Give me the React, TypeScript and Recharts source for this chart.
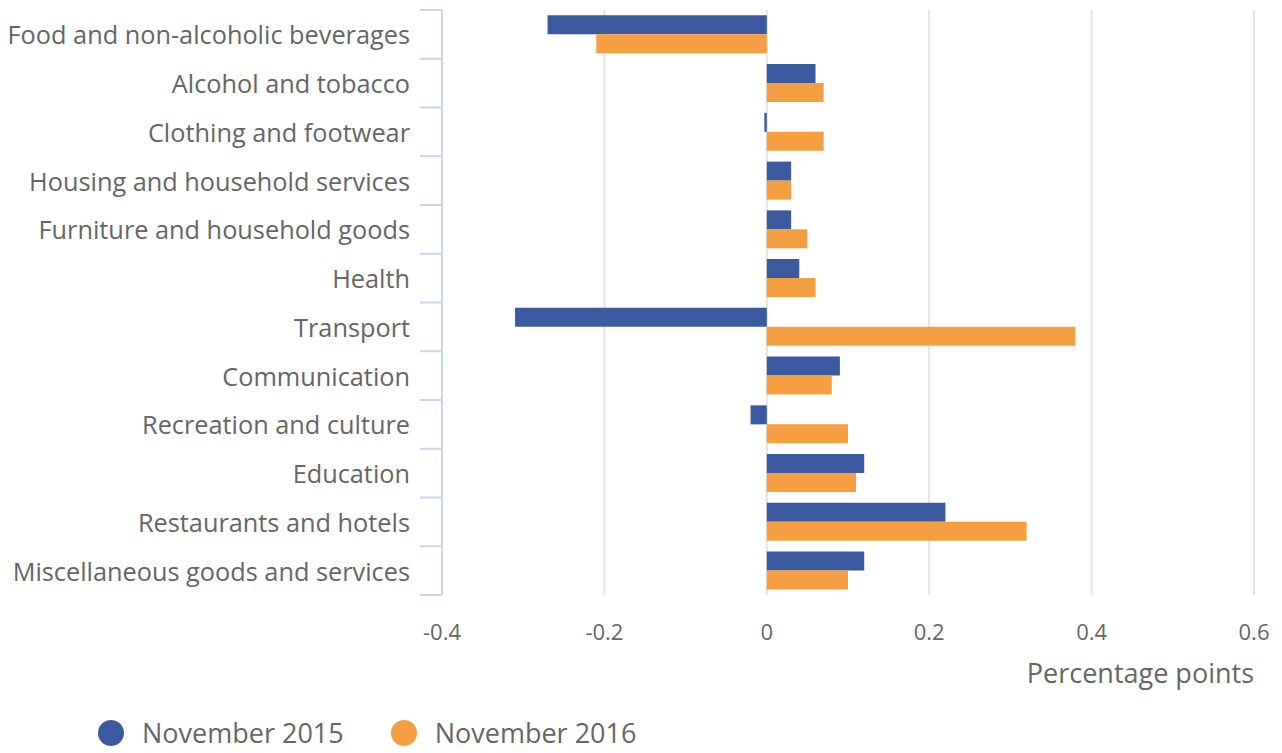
import { BarChart, Bar, XAxis, YAxis, CartesianGrid, Legend } from 'recharts';

const categories = [
  'Food and non-alcoholic beverages',
  'Alcohol and tobacco',
  'Clothing and footwear',
  'Housing and household services',
  'Furniture and household goods',
  'Health',
  'Transport',
  'Communication',
  'Recreation and culture',
  'Education',
  'Restaurants and hotels',
  'Miscellaneous goods and services',
];
const nov2015 = [-0.27, 0.06, -0.003, 0.03, 0.03, 0.04, -0.31, 0.09, -0.02, 0.12, 0.22, 0.12];
const nov2016 = [-0.21, 0.07, 0.07, 0.03, 0.05, 0.06, 0.38, 0.08, 0.1, 0.11, 0.32, 0.1];
const xTicks = [-0.4, -0.2, 0, 0.2, 0.4, 0.6];

const BLUE = '#3c5a9f';
const ORANGE = '#f59e42';
const TEXT = '#666666';
const FONT = '"Open Sans", "Noto Sans", sans-serif';
const PLOT_H = 585;

const data = categories.map((name, i) => ({
  name,
  nov2015: nov2015[i],
  nov2016: nov2016[i],
}));

const CategoryTick = (props: any) => {
  const { x, y, payload, index } = props;
  const band = PLOT_H / categories.length;
  return (
    <g>
      <text
        x={x - 32}
        y={y}
        textAnchor="end"
        dominantBaseline="central"
        fontSize={25.3}
        fontFamily={FONT}
        fill={TEXT}
      >
        {payload.value}
      </text>
      <line x1={x - 22} x2={x} y1={y - band / 2} y2={y - band / 2} stroke="#c9d5ee" strokeWidth={2} />
      {index === categories.length - 1 && (
        <line x1={x - 22} x2={x} y1={y + band / 2} y2={y + band / 2} stroke="#c9d5ee" strokeWidth={2} />
      )}
    </g>
  );
};

const LegendContent = () => (
  <div
    style={{
      display: 'flex',
      alignItems: 'center',
      paddingLeft: 90,
      paddingTop: 23,
      fontFamily: FONT,
      fontSize: 27,
      lineHeight: '34px',
      color: TEXT,
      whiteSpace: 'nowrap',
    }}
  >
    {[
      ['November 2015', BLUE],
      ['November 2016', ORANGE],
    ].map(([label, color]) => (
      <div key={label} style={{ display: 'flex', alignItems: 'center', marginRight: 47 }}>
        <span style={{ width: 26, height: 26, borderRadius: 13, background: color, marginRight: 18 }} />
        <span>{label}</span>
      </div>
    ))}
  </div>
);

export default function App() {
  return (
    <BarChart
      width={1274}
      height={745}
      data={data}
      layout="vertical"
      margin={{ top: 2, right: 28, left: 0, bottom: 0 }}
      barCategoryGap="11%"
      barGap={0}
      style={{ fontFamily: FONT }}
    >
      <CartesianGrid horizontal={false} stroke="#e3e3e3" strokeWidth={2} />
      <XAxis
        type="number"
        domain={[-0.4, 0.6]}
        ticks={xTicks}
        axisLine={false}
        tickLine={false}
        tick={{ fontSize: 22, fill: TEXT, fontFamily: FONT }}
        tickMargin={23}
        height={98}
        label={{
          value: 'Percentage points',
          position: 'insideBottomRight',
          offset: 0,
          dy: -10,
          fontSize: 27,
          fill: TEXT,
          fontFamily: FONT,
        }}
      />
      <YAxis
        type="category"
        dataKey="name"
        width={434}
        axisLine={{ stroke: '#c9d5ee', strokeWidth: 2 }}
        tickLine={false}
        tickSize={0}
        tickMargin={0}
        tick={<CategoryTick />}
        interval={0}
      />
      <Legend verticalAlign="bottom" height={60} content={<LegendContent />} />
      <Bar dataKey="nov2015" name="November 2015" fill={BLUE} isAnimationActive={false} />
      <Bar dataKey="nov2016" name="November 2016" fill={ORANGE} isAnimationActive={false} />
    </BarChart>
  );
}
